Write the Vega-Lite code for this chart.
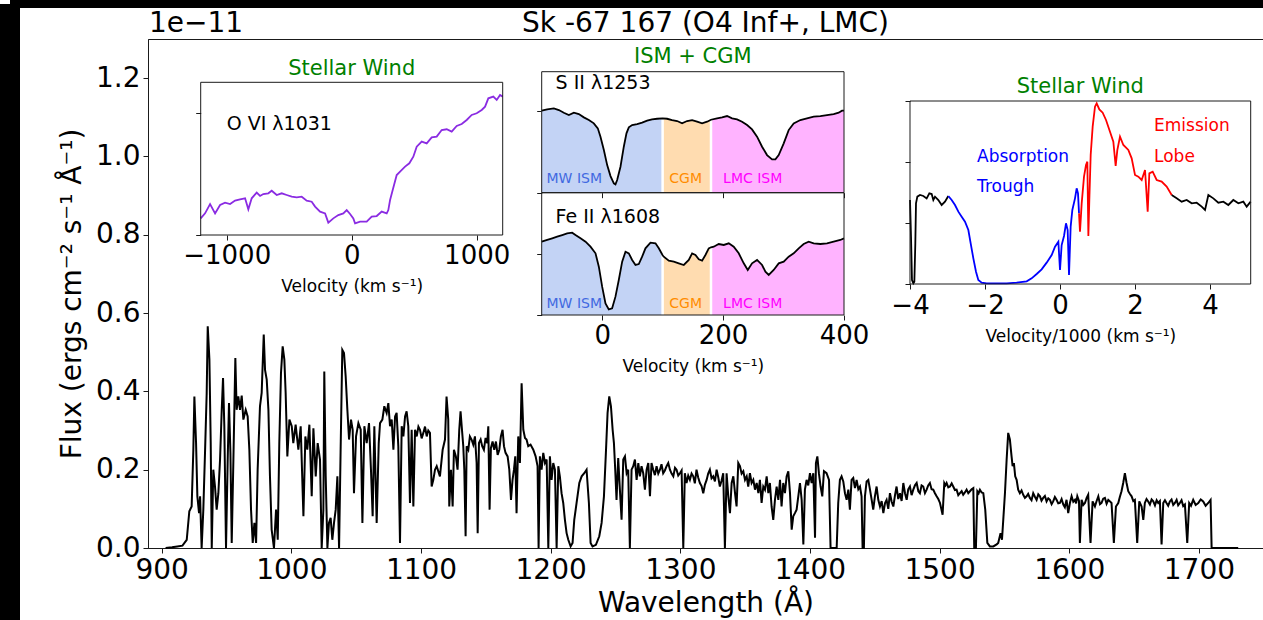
{
"$schema": "https://vega.github.io/schema/vega-lite/v6.json",
"width": 1115, "height": 509,
"autosize": {"type": "none"},
"padding": {"left": 148, "top": 39, "right": 0, "bottom": 72},
"background": "white",
"config": {
  "font": "DejaVu Sans",
  "view": {"stroke": "#1a1a1a", "strokeWidth": 1},
  "axis": {"grid": false, "domainColor": "#1a1a1a", "tickColor": "#1a1a1a", "labelColor": "black", "titleColor": "black", "labelFont": "DejaVu Sans", "titleFont": "DejaVu Sans", "titleFontWeight": "normal", "labelFlush": false, "labelOverlap": false},
  "text": {"font": "DejaVu Sans"}
},
"datasets": {
"spectrum": [
{"wl":903,"flux":0},{"wl":908,"flux":0.002},{"wl":912,"flux":0.004},{"wl":916,"flux":0.006},{"wl":919.3,"flux":0.021},{"wl":921.3,"flux":0.094},{"wl":923.1,"flux":0.106},{"wl":924.4,"flux":0.251},{"wl":925.2,"flux":0.387},{"wl":926.5,"flux":0.268},{"wl":927.5,"flux":0.132},{"wl":928.8,"flux":0.089},{"wl":929.6,"flux":0.132},{"wl":930.8,"flux":0},{"wl":932.1,"flux":0.098},{"wl":933.4,"flux":0.243},{"wl":934.7,"flux":0.396},{"wl":935.5,"flux":0.566},{"wl":936.8,"flux":0.481},{"wl":937.8,"flux":0.268},{"wl":938.6,"flux":0},{"wl":939.8,"flux":0.2},{"wl":941.1,"flux":0.157},{"wl":942.4,"flux":0.098},{"wl":943.7,"flux":0.14},{"wl":945,"flux":0.226},{"wl":946.3,"flux":0.353},{"wl":947.3,"flux":0.434},{"wl":948.3,"flux":0.311},{"wl":949.6,"flux":0},{"wl":950.9,"flux":0.226},{"wl":951.9,"flux":0.37},{"wl":953,"flux":0.243},{"wl":954,"flux":0.013},{"wl":955.3,"flux":0.226},{"wl":956.8,"flux":0.485},{"wl":957.8,"flux":0.353},{"wl":959.1,"flux":0.387},{"wl":960.4,"flux":0.353},{"wl":961.7,"flux":0.389},{"wl":963,"flux":0.328},{"wl":964.8,"flux":0.353},{"wl":966.3,"flux":0.336},{"wl":967.6,"flux":0.251},{"wl":968.9,"flux":0.098},{"wl":970.2,"flux":0.013},{"wl":971.5,"flux":0.064},{"wl":972.8,"flux":0.013},{"wl":974,"flux":0.2},{"wl":975.8,"flux":0.362},{"wl":977.1,"flux":0.396},{"wl":978.7,"flux":0.545},{"wl":979.7,"flux":0.455},{"wl":981,"flux":0.43},{"wl":982.3,"flux":0.353},{"wl":983.5,"flux":0.183},{"wl":984.8,"flux":0.047},{"wl":986.6,"flux":0},{"wl":988.2,"flux":0.098},{"wl":989.5,"flux":0.021},{"wl":990.7,"flux":0.268},{"wl":992,"flux":0.447},{"wl":993.3,"flux":0.515},{"wl":994.6,"flux":0.481},{"wl":995.6,"flux":0.396},{"wl":996.9,"flux":0.234},{"wl":998.5,"flux":0.328},{"wl":1000.3,"flux":0.311},{"wl":1001.5,"flux":0.268},{"wl":1003.3,"flux":0.315},{"wl":1005.4,"flux":0.251},{"wl":1007.2,"flux":0.311},{"wl":1009.3,"flux":0.081},{"wl":1010.8,"flux":0.285},{"wl":1012.3,"flux":0.251},{"wl":1013.9,"flux":0.315},{"wl":1015.7,"flux":0.132},{"wl":1017,"flux":0.306},{"wl":1018.8,"flux":0.183},{"wl":1020.3,"flux":0.268},{"wl":1022.1,"flux":0.226},{"wl":1023.4,"flux":0},{"wl":1024.7,"flux":0.098},{"wl":1025.4,"flux":0.451},{"wl":1026.5,"flux":0.183},{"wl":1027.8,"flux":0},{"wl":1029,"flux":0.064},{"wl":1030.3,"flux":0.077},{"wl":1031.6,"flux":0.021},{"wl":1032.9,"flux":0.064},{"wl":1034.2,"flux":0.098},{"wl":1035.5,"flux":0.183},{"wl":1036.8,"flux":0},{"wl":1038,"flux":0.251},{"wl":1039.3,"flux":0.506},{"wl":1040.6,"flux":0.498},{"wl":1041.9,"flux":0.438},{"wl":1043.2,"flux":0.353},{"wl":1044.5,"flux":0.277},{"wl":1046,"flux":0.328},{"wl":1047.3,"flux":0.302},{"wl":1048.3,"flux":0.14},{"wl":1049.9,"flux":0.285},{"wl":1051.7,"flux":0.319},{"wl":1053.5,"flux":0.302},{"wl":1054.8,"flux":0.064},{"wl":1056.3,"flux":0.311},{"wl":1058.1,"flux":0.268},{"wl":1059.9,"flux":0.319},{"wl":1061.4,"flux":0.2},{"wl":1062.7,"flux":0.081},{"wl":1064,"flux":0.311},{"wl":1065.8,"flux":0.064},{"wl":1067.4,"flux":0.268},{"wl":1068.4,"flux":0.319},{"wl":1070.2,"flux":0.328},{"wl":1071.7,"flux":0.362},{"wl":1073.5,"flux":0.345},{"wl":1074.8,"flux":0.37},{"wl":1076.1,"flux":0.311},{"wl":1077.4,"flux":0.328},{"wl":1078.7,"flux":0.251},{"wl":1080,"flux":0.336},{"wl":1081.2,"flux":0.345},{"wl":1082.5,"flux":0.26},{"wl":1083.8,"flux":0.013},{"wl":1085.1,"flux":0.311},{"wl":1086.4,"flux":0.285},{"wl":1087.7,"flux":0.336},{"wl":1088.9,"flux":0.349},{"wl":1090.2,"flux":0.311},{"wl":1091.5,"flux":0.115},{"wl":1092.8,"flux":0.302},{"wl":1094.1,"flux":0.106},{"wl":1095.4,"flux":0.302},{"wl":1096.7,"flux":0.285},{"wl":1098,"flux":0.31},{"wl":1099.2,"flux":0.302},{"wl":1100.5,"flux":0.28},{"wl":1101.8,"flux":0.294},{"wl":1103.1,"flux":0.31},{"wl":1104.4,"flux":0.285},{"wl":1105.6,"flux":0.3},{"wl":1106.9,"flux":0.294},{"wl":1108.2,"flux":0.157},{"wl":1109.5,"flux":0.174},{"wl":1110.8,"flux":0.2},{"wl":1112.1,"flux":0.209},{"wl":1114.6,"flux":0.183},
{"wl":1116.7,"flux":0.251},{"wl":1118.5,"flux":0.277},{"wl":1119.7,"flux":0.387},{"wl":1121,"flux":0.328},{"wl":1121.8,"flux":0.106},{"wl":1123.1,"flux":0.2},{"wl":1124.4,"flux":0.106},{"wl":1125.4,"flux":0.251},{"wl":1126.9,"flux":0.234},{"wl":1128.2,"flux":0.2},{"wl":1129.5,"flux":0.302},{"wl":1130.5,"flux":0.349},{"wl":1131.6,"flux":0.302},{"wl":1132.6,"flux":0.26},{"wl":1133.4,"flux":0.2},{"wl":1134.4,"flux":0.03},{"wl":1135.2,"flux":0.26},{"wl":1136.5,"flux":0.251},{"wl":1137.7,"flux":0.285},{"wl":1139,"flux":0.277},{"wl":1140.3,"flux":0.264},{"wl":1141.6,"flux":0.285},{"wl":1142.9,"flux":0.217},{"wl":1143.7,"flux":0.038},{"wl":1144.7,"flux":0.268},{"wl":1146,"flux":0.277},{"wl":1147.2,"flux":0.26},{"wl":1148.5,"flux":0.251},{"wl":1149.8,"flux":0.281},{"wl":1151.1,"flux":0.268},{"wl":1151.9,"flux":0.311},{"wl":1152.9,"flux":0.098},{"wl":1153.9,"flux":0.255},{"wl":1155.2,"flux":0.272},{"wl":1156.5,"flux":0.251},{"wl":1157.8,"flux":0.272},{"wl":1159.1,"flux":0.238},{"wl":1160.4,"flux":0.251},{"wl":1161.6,"flux":0.285},{"wl":1162.9,"flux":0.302},{"wl":1164,"flux":0.26},{"wl":1165.2,"flux":0.243},{"wl":1166.8,"flux":0.234},{"wl":1168.1,"flux":0.2},{"wl":1169.4,"flux":0.123},{"wl":1170.6,"flux":0.174},{"wl":1171.7,"flux":0.2},{"wl":1172.7,"flux":0.234},{"wl":1173.7,"flux":0.089},{"wl":1175,"flux":0.285},{"wl":1176.3,"flux":0.217},{"wl":1177.6,"flux":0.421},{"wl":1178.9,"flux":0.302},{"wl":1180.2,"flux":0.281},{"wl":1181.4,"flux":0.277},{"wl":1182.7,"flux":0.26},{"wl":1184.5,"flux":0.264},{"wl":1186.6,"flux":0.251},{"wl":1188.4,"flux":0.234},{"wl":1189.9,"flux":0.209},{"wl":1190.7,"flux":0},{"wl":1191.7,"flux":0.234},{"wl":1193,"flux":0.2},{"wl":1194.3,"flux":0.243},{"wl":1195.6,"flux":0.217},{"wl":1196.9,"flux":0.226},{"wl":1198.2,"flux":0},{"wl":1199.4,"flux":0.234},{"wl":1200.7,"flux":0.174},{"wl":1202,"flux":0.217},{"wl":1203.3,"flux":0.2},{"wl":1204.6,"flux":0},{"wl":1205.9,"flux":0.209},{"wl":1207.1,"flux":0.183},{"wl":1208.4,"flux":0.14},{"wl":1209.7,"flux":0.115},{"wl":1211,"flux":0.072},{"wl":1212.3,"flux":0.038},{"wl":1213.6,"flux":0.021},{"wl":1215.4,"flux":0.004},{"wl":1216.9,"flux":0.013},{"wl":1218.2,"flux":0.072},{"wl":1220,"flux":0.115},{"wl":1222.1,"flux":0.166},{"wl":1223.9,"flux":0.183},{"wl":1225.9,"flux":0.191},{"wl":1227.7,"flux":0.2},{"wl":1229.5,"flux":0.115},{"wl":1230.8,"flux":0.013},{"wl":1232.3,"flux":0.004},{"wl":1234.9,"flux":0.008},{"wl":1237.5,"flux":0.03},{"wl":1239.3,"flux":0.064},{"wl":1241.1,"flux":0.132},{"wl":1242.6,"flux":0.243},{"wl":1243.9,"flux":0.345},{"wl":1245.2,"flux":0.387},{"wl":1246.5,"flux":0.362},{"wl":1247.8,"flux":0.302},{"wl":1248.8,"flux":0.268},{"wl":1249.8,"flux":0.2},{"wl":1250.8,"flux":0.123},{"wl":1252.1,"flux":0.23},{"wl":1253.4,"flux":0.149},{"wl":1254.7,"flux":0.072},{"wl":1256,"flux":0.226},{"wl":1257.3,"flux":0.234},{"wl":1258.6,"flux":0.191},{"wl":1259.8,"flux":0.2},{"wl":1261.1,"flux":0},{"wl":1262.4,"flux":0.2},{"wl":1263.7,"flux":0.209},{"wl":1265,"flux":0.226},{"wl":1266.3,"flux":0.174},{"wl":1267.6,"flux":0.217},{"wl":1268.8,"flux":0.183},{"wl":1270.1,"flux":0.209},{"wl":1271.4,"flux":0.191},{"wl":1272.7,"flux":0.149},{"wl":1274,"flux":0.2},{"wl":1275.3,"flux":0.217},{"wl":1276.6,"flux":0.132},{"wl":1277.8,"flux":0.217},{"wl":1279.1,"flux":0.2},{"wl":1280.4,"flux":0.186},{"wl":1281.7,"flux":0.209},{"wl":1283,"flux":0.19},{"wl":1284.3,"flux":0.2},{"wl":1285.5,"flux":0.214},{"wl":1286.8,"flux":0.191},{"wl":1288.1,"flux":0.198},{"wl":1289.4,"flux":0.209},{"wl":1290.7,"flux":0.217},{"wl":1292,"flux":0.2},{"wl":1293.3,"flux":0.19},{"wl":1294.6,"flux":0.183},{"wl":1295.9,"flux":0.205},{"wl":1297.1,"flux":0.2},{"wl":1298.4,"flux":0.185},{"wl":1299.7,"flux":0.191},{"wl":1301,"flux":0.198},{"wl":1302.3,"flux":0},{"wl":1303.5,"flux":0.191},{"wl":1304.8,"flux":0.166},{"wl":1306.1,"flux":0.185},{"wl":1307.4,"flux":0.174},{"wl":1308.7,"flux":0.19},{"wl":1310,"flux":0.183},{"wl":1311.2,"flux":0.165},{"wl":1312.5,"flux":0.2},{"wl":1313.8,"flux":0.18},{"wl":1315.1,"flux":0.166},{"wl":1316.4,"flux":0.158},{"wl":1317.7,"flux":0.14},{"wl":1319,"flux":0.162},{"wl":1320.3,"flux":0.174},{"wl":1321.5,"flux":0.19},{"wl":1322.8,"flux":0.2},{"wl":1324.1,"flux":0.178},{"wl":1325.4,"flux":0.183},{"wl":1326.7,"flux":0.17},{"wl":1328,"flux":0.2},{"wl":1329.3,"flux":0.18},{"wl":1330.5,"flux":0.157},{"wl":1331.8,"flux":0.172},{"wl":1333.1,"flux":0.191},{"wl":1334.4,"flux":0},{"wl":1335.7,"flux":0.191},{"wl":1337,"flux":0.132},
{"wl":1338.3,"flux":0.089},{"wl":1339.6,"flux":0.166},{"wl":1340.9,"flux":0.183},{"wl":1342.2,"flux":0.14},{"wl":1343.4,"flux":0.106},{"wl":1344.7,"flux":0.217},{"wl":1346,"flux":0.209},{"wl":1347.3,"flux":0.19},{"wl":1348.6,"flux":0.196},{"wl":1349.9,"flux":0.174},{"wl":1351.2,"flux":0.183},{"wl":1352.4,"flux":0.157},{"wl":1353.7,"flux":0.191},{"wl":1355,"flux":0.166},{"wl":1356.3,"flux":0.174},{"wl":1357.6,"flux":0.149},{"wl":1358.9,"flux":0.166},{"wl":1360.2,"flux":0.14},{"wl":1361.4,"flux":0.174},{"wl":1362.7,"flux":0.115},{"wl":1364,"flux":0.157},{"wl":1365.3,"flux":0.149},{"wl":1366.6,"flux":0.183},{"wl":1367.9,"flux":0.14},{"wl":1369.1,"flux":0.166},{"wl":1370.4,"flux":0.106},{"wl":1371.7,"flux":0.072},{"wl":1373,"flux":0.123},{"wl":1374.3,"flux":0.157},{"wl":1375.6,"flux":0.123},{"wl":1376.9,"flux":0.174},{"wl":1378.1,"flux":0.106},{"wl":1379.4,"flux":0.166},{"wl":1380.7,"flux":0.14},{"wl":1382,"flux":0.183},{"wl":1383.3,"flux":0.196},{"wl":1384.6,"flux":0.14},{"wl":1385.9,"flux":0.047},{"wl":1387.1,"flux":0.081},{"wl":1388.4,"flux":0.089},{"wl":1389.7,"flux":0.098},{"wl":1391,"flux":0.132},{"wl":1392.3,"flux":0.166},{"wl":1393.6,"flux":0.123},{"wl":1394.9,"flux":0.009},{"wl":1396.1,"flux":0.149},{"wl":1397.4,"flux":0.174},{"wl":1398.7,"flux":0.16},{"wl":1400,"flux":0.191},{"wl":1401.3,"flux":0.166},{"wl":1402.6,"flux":0.191},{"wl":1403.9,"flux":0.026},{"wl":1404.6,"flux":0.217},{"wl":1405.7,"flux":0.234},{"wl":1406.9,"flux":0.191},{"wl":1408.2,"flux":0.157},{"wl":1409.5,"flux":0.132},{"wl":1410.8,"flux":0.196},{"wl":1412.8,"flux":0.191},{"wl":1414.7,"flux":0.174},{"wl":1415.9,"flux":0},{"wl":1418,"flux":0},{"wl":1420.6,"flux":0},{"wl":1421.8,"flux":0.115},{"wl":1423.1,"flux":0.174},{"wl":1424.4,"flux":0.183},{"wl":1425.7,"flux":0.17},{"wl":1427,"flux":0.14},{"wl":1428.3,"flux":0.123},{"wl":1429.6,"flux":0.149},{"wl":1430.8,"flux":0.098},{"wl":1432.1,"flux":0.174},{"wl":1433.4,"flux":0.179},{"wl":1434.7,"flux":0.153},{"wl":1436,"flux":0.174},{"wl":1437.3,"flux":0.15},{"wl":1438.6,"flux":0.157},{"wl":1439.8,"flux":0.132},{"wl":1440.6,"flux":0},{"wl":1441.6,"flux":0},{"wl":1442.4,"flux":0.132},{"wl":1443.7,"flux":0.17},{"wl":1445,"flux":0.174},{"wl":1446.3,"flux":0.149},{"wl":1447.6,"flux":0.123},{"wl":1448.8,"flux":0.098},{"wl":1450.1,"flux":0.132},{"wl":1451.4,"flux":0.157},{"wl":1452.7,"flux":0.123},{"wl":1454,"flux":0.106},{"wl":1455.3,"flux":0.12},{"wl":1456.6,"flux":0.089},{"wl":1457.9,"flux":0.115},{"wl":1459.1,"flux":0.123},{"wl":1460.4,"flux":0.1},{"wl":1461.7,"flux":0.14},{"wl":1463,"flux":0.118},{"wl":1464.3,"flux":0.106},{"wl":1465.6,"flux":0.135},{"wl":1466.8,"flux":0.157},{"wl":1468.1,"flux":0.125},{"wl":1469.4,"flux":0.14},{"wl":1470.7,"flux":0.12},{"wl":1472,"flux":0.166},{"wl":1473.3,"flux":0.14},{"wl":1474.6,"flux":0.123},{"wl":1475.8,"flux":0.15},{"wl":1477.1,"flux":0.157},{"wl":1478.4,"flux":0.135},{"wl":1479.7,"flux":0.149},{"wl":1481,"flux":0.16},{"wl":1482.3,"flux":0.166},{"wl":1483.6,"flux":0.145},{"wl":1484.8,"flux":0.14},{"wl":1486.1,"flux":0.16},{"wl":1487.4,"flux":0.157},{"wl":1488.7,"flux":0.14},{"wl":1490,"flux":0.149},{"wl":1491.2,"flux":0.16},{"wl":1492.5,"flux":0.166},{"wl":1493.8,"flux":0.15},{"wl":1495.1,"flux":0.149},{"wl":1496.4,"flux":0.14},{"wl":1497.7,"flux":0.132},{"wl":1499,"flux":0.125},{"wl":1500.3,"flux":0.115},{"wl":1502.3,"flux":0.085},{"wl":1503.6,"flux":0.166},{"wl":1504.5,"flux":0.16},{"wl":1505.4,"flux":0.166},{"wl":1506.7,"flux":0.155},{"wl":1508,"flux":0.157},{"wl":1509.3,"flux":0.165},{"wl":1510.5,"flux":0.157},{"wl":1511.8,"flux":0.148},{"wl":1513.1,"flux":0.149},{"wl":1514.4,"flux":0.135},{"wl":1515.7,"flux":0.14},{"wl":1517,"flux":0.145},{"wl":1518.2,"flux":0.136},{"wl":1519.5,"flux":0.142},{"wl":1520.8,"flux":0.149},{"wl":1522.1,"flux":0.14},{"wl":1523.4,"flux":0.145},{"wl":1524.7,"flux":0.15},{"wl":1526,"flux":0.153},{"wl":1526.7,"flux":0},{"wl":1528,"flux":0},{"wl":1529.1,"flux":0.145},{"wl":1530.1,"flux":0.14},{"wl":1531.1,"flux":0.149},{"wl":1532.4,"flux":0.142},{"wl":1533.7,"flux":0.14},{"wl":1535.2,"flux":0.098},{"wl":1536.8,"flux":0.013},{"wl":1538.8,"flux":0.004},{"wl":1541.4,"flux":0.004},{"wl":1544,"flux":0.009},
{"wl":1545.2,"flux":0.013},{"wl":1547,"flux":0.038},{"wl":1548.1,"flux":0.021},{"wl":1549.1,"flux":0.072},{"wl":1550.4,"flux":0.14},{"wl":1551.7,"flux":0.226},{"wl":1552.9,"flux":0.294},{"wl":1554.2,"flux":0.277},{"wl":1555.5,"flux":0.234},{"wl":1556.3,"flux":0.209},{"wl":1557.3,"flux":0.217},{"wl":1558.3,"flux":0.183},{"wl":1559.4,"flux":0.174},{"wl":1560.6,"flux":0.149},{"wl":1561.9,"flux":0.14},{"wl":1563.2,"flux":0.147},{"wl":1564.5,"flux":0.136},{"wl":1565.8,"flux":0.128},{"wl":1567.1,"flux":0.132},{"wl":1568.3,"flux":0.138},{"wl":1569.6,"flux":0.128},{"wl":1570.9,"flux":0.122},{"wl":1572.2,"flux":0.14},{"wl":1573.5,"flux":0.131},{"wl":1574.8,"flux":0.123},{"wl":1576.1,"flux":0.137},{"wl":1577.4,"flux":0.132},{"wl":1578.6,"flux":0.121},{"wl":1579.9,"flux":0.128},{"wl":1581.2,"flux":0.133},{"wl":1582.5,"flux":0.119},{"wl":1583.8,"flux":0.127},{"wl":1585.1,"flux":0.123},{"wl":1586.4,"flux":0.112},{"wl":1587.6,"flux":0.119},{"wl":1588.9,"flux":0.13},{"wl":1590.2,"flux":0.123},{"wl":1591.5,"flux":0.114},{"wl":1592.8,"flux":0.115},{"wl":1594.1,"flux":0.125},{"wl":1595.4,"flux":0.111},{"wl":1596.6,"flux":0.104},{"wl":1597.9,"flux":0.123},{"wl":1599.2,"flux":0.089},{"wl":1600.5,"flux":0.115},{"wl":1601.8,"flux":0.132},{"wl":1603.1,"flux":0.118},{"wl":1604.4,"flux":0.123},{"wl":1605.3,"flux":0.114},{"wl":1606.2,"flux":0.132},{"wl":1607.5,"flux":0.12},{"wl":1608.2,"flux":0.013},{"wl":1609.5,"flux":0.123},{"wl":1610.8,"flux":0.11},{"wl":1612.1,"flux":0.115},{"wl":1613.4,"flux":0.128},{"wl":1614.6,"flux":0.136},{"wl":1616.4,"flux":0.013},{"wl":1618,"flux":0.119},{"wl":1619.8,"flux":0.106},{"wl":1621.1,"flux":0.12},{"wl":1622.4,"flux":0.132},{"wl":1623.7,"flux":0.112},{"wl":1624.9,"flux":0.115},{"wl":1626.2,"flux":0.126},{"wl":1627.5,"flux":0.128},{"wl":1628.8,"flux":0.113},{"wl":1630.1,"flux":0.123},{"wl":1631.4,"flux":0.119},{"wl":1632.6,"flux":0.115},{"wl":1634.4,"flux":0.013},{"wl":1636,"flux":0.106},{"wl":1637.8,"flux":0.115},{"wl":1639,"flux":0.13},{"wl":1640.3,"flux":0.145},{"wl":1641.6,"flux":0.166},{"wl":1642.9,"flux":0.191},{"wl":1644.2,"flux":0.166},{"wl":1645.5,"flux":0.145},{"wl":1646.8,"flux":0.138},{"wl":1648.1,"flux":0.132},{"wl":1649.4,"flux":0.12},{"wl":1650.6,"flux":0.123},{"wl":1652.4,"flux":0.013},{"wl":1654,"flux":0.119},{"wl":1655.8,"flux":0.106},{"wl":1657.1,"flux":0.072},{"wl":1658.3,"flux":0.115},{"wl":1659.6,"flux":0.125},{"wl":1660.9,"flux":0.119},{"wl":1662.2,"flux":0.111},{"wl":1663.5,"flux":0.124},{"wl":1664.8,"flux":0.119},{"wl":1666.1,"flux":0.109},{"wl":1667.4,"flux":0.122},{"wl":1668.6,"flux":0.115},{"wl":1669.9,"flux":0.12},{"wl":1671.2,"flux":0.009},{"wl":1672.5,"flux":0.115},{"wl":1673.8,"flux":0.122},{"wl":1675,"flux":0.115},{"wl":1676.3,"flux":0.108},{"wl":1677.6,"flux":0.119},{"wl":1678.9,"flux":0.124},{"wl":1680.2,"flux":0.11},{"wl":1681.5,"flux":0.115},{"wl":1682.8,"flux":0.123},{"wl":1684,"flux":0.109},{"wl":1685.3,"flux":0.115},{"wl":1686.6,"flux":0.122},{"wl":1687.9,"flux":0.107},{"wl":1689.2,"flux":0.111},{"wl":1691,"flux":0.013},{"wl":1692.5,"flux":0.115},{"wl":1693.9,"flux":0.108},{"wl":1695.6,"flux":0.123},{"wl":1697.5,"flux":0.11},{"wl":1699.5,"flux":0.115},{"wl":1701.4,"flux":0.124},{"wl":1703.3,"flux":0.119},{"wl":1705.2,"flux":0.108},{"wl":1707.2,"flux":0.115},{"wl":1709,"flux":0.123},{"wl":1709.8,"flux":0},{"wl":1713.6,"flux":0},{"wl":1730.3,"flux":0}
],
"ovi": [
{"v":-1208,"f":0.136},{"v":-1173,"f":0.177},{"v":-1133,"f":0.253},{"v":-1093,"f":0.177},{"v":-1053,"f":0.245},{"v":-1013,"f":0.264},{"v":-973,"f":0.253},{"v":-933,"f":0.281},{"v":-893,"f":0.292},{"v":-853,"f":0.3},{"v":-827,"f":0.21},{"v":-800,"f":0.3},{"v":-760,"f":0.346},{"v":-733,"f":0.319},{"v":-707,"f":0.335},{"v":-667,"f":0.341},{"v":-640,"f":0.362},{"v":-600,"f":0.327},{"v":-560,"f":0.341},{"v":-520,"f":0.327},{"v":-480,"f":0.313},{"v":-440,"f":0.308},{"v":-400,"f":0.313},{"v":-360,"f":0.281},{"v":-320,"f":0.272},{"v":-293,"f":0.232},{"v":-253,"f":0.191},{"v":-213,"f":0.177},{"v":-187,"f":0.101},{"v":-147,"f":0.136},{"v":-107,"f":0.163},{"v":-67,"f":0.177},{"v":-40,"f":0.204},{"v":-13,"f":0.172},{"v":13,"f":0.136},{"v":27,"f":0.095},{"v":67,"f":0.109},{"v":120,"f":0.109},{"v":160,"f":0.15},{"v":200,"f":0.155},{"v":240,"f":0.191},{"v":280,"f":0.177},{"v":293,"f":0.204},{"v":307,"f":0.286},{"v":328,"f":0.368},{"v":360,"f":0.49},{"v":387,"f":0.518},{"v":427,"f":0.559},{"v":461,"f":0.586},{"v":493,"f":0.64},{"v":520,"f":0.722},{"v":560,"f":0.763},{"v":600,"f":0.749},{"v":640,"f":0.798},{"v":680,"f":0.804},{"v":720,"f":0.858},{"v":760,"f":0.864},{"v":800,"f":0.845},{"v":840,"f":0.891},{"v":880,"f":0.907},{"v":920,"f":0.94},{"v":960,"f":0.981},{"v":1000,"f":0.995},{"v":1040,"f":1.022},{"v":1067,"f":1.049},{"v":1093,"f":1.117},{"v":1133,"f":1.131},{"v":1160,"f":1.104},{"v":1187,"f":1.144},{"v":1208,"f":1.131}
],
"s2": [
{"v":-100,"f":1.0,"region":"MW"},{"v":-90.9,"f":1.016,"region":"MW"},{"v":-79.9,"f":1.028,"region":"MW"},{"v":-71.6,"f":1.008,"region":"MW"},{"v":-63.4,"f":0.976,"region":"MW"},{"v":-55.1,"f":0.947,"region":"MW"},{"v":-46.8,"f":0.976,"region":"MW"},{"v":-38.6,"f":0.959,"region":"MW"},{"v":-30.3,"f":0.919,"region":"MW"},{"v":-22,"f":0.886,"region":"MW"},{"v":-13.8,"f":0.846,"region":"MW"},{"v":-7.2,"f":0.785,"region":"MW"},{"v":-2.8,"f":0.683,"region":"MW"},{"v":2.8,"f":0.52,"region":"MW"},{"v":8.3,"f":0.337,"region":"MW"},{"v":13.8,"f":0.203,"region":"MW"},{"v":19.3,"f":0.114,"region":"MW"},{"v":22,"f":0.102,"region":"MW"},{"v":24.8,"f":0.154,"region":"MW"},{"v":30.3,"f":0.317,"region":"MW"},{"v":35.8,"f":0.561,"region":"MW"},{"v":40.2,"f":0.724,"region":"MW"},{"v":44.1,"f":0.797,"region":"MW"},{"v":49.6,"f":0.825,"region":"MW"},{"v":57.9,"f":0.837,"region":"MW"},{"v":66.1,"f":0.854,"region":"MW"},{"v":74.4,"f":0.878,"region":"MW"},{"v":82.6,"f":0.894,"region":"MW"},{"v":90.9,"f":0.902,"region":"MW"},{"v":100,"f":0.907,"region":"MW"},
{"v":100,"f":0.907,"region":"CGM"},{"v":107.4,"f":0.902,"region":"CGM"},{"v":115.7,"f":0.886,"region":"CGM"},{"v":124,"f":0.874,"region":"CGM"},{"v":132.2,"f":0.846,"region":"CGM"},{"v":140.5,"f":0.874,"region":"CGM"},{"v":148.8,"f":0.886,"region":"CGM"},{"v":157,"f":0.866,"region":"CGM"},{"v":165.3,"f":0.846,"region":"CGM"},{"v":173.6,"f":0.866,"region":"CGM"},{"v":180,"f":0.89,"region":"CGM"},
{"v":180,"f":0.89,"region":"LMC"},{"v":190.1,"f":0.907,"region":"LMC"},{"v":198.3,"f":0.919,"region":"LMC"},{"v":206.6,"f":0.935,"region":"LMC"},{"v":214.9,"f":0.907,"region":"LMC"},{"v":223.1,"f":0.894,"region":"LMC"},{"v":231.4,"f":0.866,"region":"LMC"},{"v":239.7,"f":0.825,"region":"LMC"},{"v":247.9,"f":0.772,"region":"LMC"},{"v":256.2,"f":0.683,"region":"LMC"},{"v":264.5,"f":0.561,"region":"LMC"},{"v":272.7,"f":0.459,"region":"LMC"},{"v":281,"f":0.407,"region":"LMC"},{"v":286.5,"f":0.407,"region":"LMC"},{"v":292,"f":0.459,"region":"LMC"},{"v":300.3,"f":0.602,"region":"LMC"},{"v":308.5,"f":0.764,"region":"LMC"},{"v":316.8,"f":0.846,"region":"LMC"},{"v":327.8,"f":0.886,"region":"LMC"},{"v":338.8,"f":0.907,"region":"LMC"},{"v":349.9,"f":0.927,"region":"LMC"},{"v":360.9,"f":0.935,"region":"LMC"},{"v":371.9,"f":0.947,"region":"LMC"},{"v":382.9,"f":0.959,"region":"LMC"},{"v":391.2,"f":0.976,"region":"LMC"},{"v":396.7,"f":1.0,"region":"LMC"},{"v":400,"f":1.0,"region":"LMC"}
],
"fe2": [
{"v":-100,"f":1.202,"region":"MW"},{"v":-90.9,"f":1.23,"region":"MW"},{"v":-82.6,"f":1.257,"region":"MW"},{"v":-74.4,"f":1.284,"region":"MW"},{"v":-66.1,"f":1.311,"region":"MW"},{"v":-57.9,"f":1.339,"region":"MW"},{"v":-49.6,"f":1.35,"region":"MW"},{"v":-44.1,"f":1.311,"region":"MW"},{"v":-35.8,"f":1.257,"region":"MW"},{"v":-27.5,"f":1.202,"region":"MW"},{"v":-19.3,"f":1.12,"region":"MW"},{"v":-11,"f":1.011,"region":"MW"},{"v":-5.5,"f":0.792,"region":"MW"},{"v":0,"f":0.464,"region":"MW"},{"v":5.5,"f":0.191,"region":"MW"},{"v":11,"f":0.093,"region":"MW"},{"v":16.5,"f":0.109,"region":"MW"},{"v":22,"f":0.301,"region":"MW"},{"v":27.5,"f":0.574,"region":"MW"},{"v":33.1,"f":0.874,"region":"MW"},{"v":38.6,"f":1.038,"region":"MW"},{"v":44.1,"f":1.011,"region":"MW"},{"v":49.6,"f":0.902,"region":"MW"},{"v":55.1,"f":0.82,"region":"MW"},{"v":60.6,"f":0.836,"region":"MW"},{"v":66.1,"f":0.956,"region":"MW"},{"v":71.6,"f":1.093,"region":"MW"},{"v":79.9,"f":1.186,"region":"MW"},{"v":88.2,"f":1.175,"region":"MW"},{"v":93.7,"f":1.093,"region":"MW"},{"v":100,"f":0.98,"region":"MW"},
{"v":100,"f":0.98,"region":"CGM"},{"v":101.9,"f":0.956,"region":"CGM"},{"v":110.2,"f":0.891,"region":"CGM"},{"v":118.5,"f":0.874,"region":"CGM"},{"v":126.7,"f":0.847,"region":"CGM"},{"v":135,"f":0.82,"region":"CGM"},{"v":143.3,"f":0.902,"region":"CGM"},{"v":148.8,"f":1.011,"region":"CGM"},{"v":154.3,"f":0.984,"region":"CGM"},{"v":159.8,"f":0.913,"region":"CGM"},{"v":165.3,"f":0.891,"region":"CGM"},{"v":170.8,"f":0.984,"region":"CGM"},{"v":176.3,"f":1.093,"region":"CGM"},{"v":180,"f":1.11,"region":"CGM"},
{"v":180,"f":1.11,"region":"LMC"},{"v":184.6,"f":1.12,"region":"LMC"},{"v":192.8,"f":1.164,"region":"LMC"},{"v":201.1,"f":1.148,"region":"LMC"},{"v":209.4,"f":1.175,"region":"LMC"},{"v":217.6,"f":1.12,"region":"LMC"},{"v":225.9,"f":1.011,"region":"LMC"},{"v":234.2,"f":0.847,"region":"LMC"},{"v":240.8,"f":0.738,"region":"LMC"},{"v":247.9,"f":0.847,"region":"LMC"},{"v":256.2,"f":0.902,"region":"LMC"},{"v":264.5,"f":0.82,"region":"LMC"},{"v":270,"f":0.71,"region":"LMC"},{"v":275.5,"f":0.656,"region":"LMC"},{"v":283.7,"f":0.738,"region":"LMC"},{"v":292,"f":0.847,"region":"LMC"},{"v":300.3,"f":0.874,"region":"LMC"},{"v":308.5,"f":0.956,"region":"LMC"},{"v":316.8,"f":1.011,"region":"LMC"},{"v":325.1,"f":1.093,"region":"LMC"},{"v":333.3,"f":1.164,"region":"LMC"},{"v":341.6,"f":1.202,"region":"LMC"},{"v":349.9,"f":1.175,"region":"LMC"},{"v":360.9,"f":1.164,"region":"LMC"},{"v":371.9,"f":1.175,"region":"LMC"},{"v":382.9,"f":1.202,"region":"LMC"},{"v":393.9,"f":1.23,"region":"LMC"},{"v":400,"f":1.257,"region":"LMC"}
],
"wind": [
{"v":-4.0,"f":1.377,"part":"c1"},{"v":-3.973,"f":0.776,"part":"c1"},{"v":-3.947,"f":0.066,"part":"c1"},{"v":-3.911,"f":0.011,"part":"c1"},{"v":-3.884,"f":0.038,"part":"c1"},{"v":-3.858,"f":0.667,"part":"c1"},{"v":-3.84,"f":1.322,"part":"c1"},{"v":-3.804,"f":1.432,"part":"c1"},{"v":-3.733,"f":1.459,"part":"c1"},{"v":-3.644,"f":1.443,"part":"c1"},{"v":-3.556,"f":1.404,"part":"c1"},{"v":-3.484,"f":1.486,"part":"c1"},{"v":-3.422,"f":1.475,"part":"c1"},{"v":-3.378,"f":1.377,"part":"c1"},{"v":-3.333,"f":1.432,"part":"c1"},{"v":-3.244,"f":1.377,"part":"c1"},{"v":-3.156,"f":1.295,"part":"c1"},{"v":-3.067,"f":1.35,"part":"c1"},{"v":-2.978,"f":1.443,"part":"c1"},
{"v":-2.978,"f":1.443,"part":"abs"},{"v":-2.889,"f":1.377,"part":"abs"},{"v":-2.8,"f":1.295,"part":"abs"},{"v":-2.711,"f":1.186,"part":"abs"},{"v":-2.622,"f":1.104,"part":"abs"},{"v":-2.533,"f":1.022,"part":"abs"},{"v":-2.444,"f":0.885,"part":"abs"},{"v":-2.382,"f":0.667,"part":"abs"},{"v":-2.311,"f":0.421,"part":"abs"},{"v":-2.24,"f":0.202,"part":"abs"},{"v":-2.178,"f":0.066,"part":"abs"},{"v":-2.089,"f":0.022,"part":"abs"},{"v":-1.956,"f":0.011,"part":"abs"},{"v":-1.689,"f":0.011,"part":"abs"},{"v":-1.422,"f":0.011,"part":"abs"},{"v":-1.156,"f":0.022,"part":"abs"},{"v":-0.889,"f":0.044,"part":"abs"},{"v":-0.756,"f":0.093,"part":"abs"},{"v":-0.622,"f":0.164,"part":"abs"},{"v":-0.489,"f":0.24,"part":"abs"},{"v":-0.356,"f":0.35,"part":"abs"},{"v":-0.222,"f":0.475,"part":"abs"},{"v":-0.133,"f":0.612,"part":"abs"},{"v":-0.044,"f":0.694,"part":"abs"},{"v":0.0,"f":0.23,"part":"abs"},{"v":0.044,"f":0.639,"part":"abs"},{"v":0.107,"f":0.787,"part":"abs"},{"v":0.16,"f":0.995,"part":"abs"},{"v":0.204,"f":0.885,"part":"abs"},{"v":0.24,"f":0.148,"part":"abs"},{"v":0.284,"f":0.94,"part":"abs"},{"v":0.329,"f":1.213,"part":"abs"},{"v":0.4,"f":1.404,"part":"abs"},{"v":0.444,"f":1.568,"part":"abs"},{"v":0.48,"f":1.486,"part":"abs"},{"v":0.507,"f":1.158,"part":"abs"},
{"v":0.507,"f":1.158,"part":"emis"},{"v":0.533,"f":0.858,"part":"emis"},{"v":0.578,"f":1.322,"part":"emis"},{"v":0.64,"f":1.76,"part":"emis"},{"v":0.693,"f":1.951,"part":"emis"},{"v":0.729,"f":2.005,"part":"emis"},{"v":0.756,"f":0.787,"part":"emis"},{"v":0.782,"f":1.377,"part":"emis"},{"v":0.818,"f":2.115,"part":"emis"},{"v":0.871,"f":2.579,"part":"emis"},{"v":0.933,"f":2.907,"part":"emis"},{"v":0.978,"f":2.962,"part":"emis"},{"v":1.049,"f":2.863,"part":"emis"},{"v":1.138,"f":2.809,"part":"emis"},{"v":1.227,"f":2.689,"part":"emis"},{"v":1.333,"f":2.497,"part":"emis"},{"v":1.422,"f":2.333,"part":"emis"},{"v":1.484,"f":1.934,"part":"emis"},{"v":1.529,"f":2.197,"part":"emis"},{"v":1.6,"f":2.415,"part":"emis"},{"v":1.689,"f":2.279,"part":"emis"},{"v":1.822,"f":2.197,"part":"emis"},{"v":1.911,"f":2.06,"part":"emis"},{"v":2.0,"f":1.787,"part":"emis"},{"v":2.089,"f":1.76,"part":"emis"},{"v":2.178,"f":1.705,"part":"emis"},{"v":2.267,"f":1.869,"part":"emis"},{"v":2.338,"f":1.186,"part":"emis"},{"v":2.382,"f":1.814,"part":"emis"},{"v":2.471,"f":1.842,"part":"emis"},{"v":2.578,"f":1.705,"part":"emis"},{"v":2.711,"f":1.678,"part":"emis"},{"v":2.844,"f":1.596,"part":"emis"},{"v":2.978,"f":1.459,"part":"emis"},
{"v":2.978,"f":1.459,"part":"c2"},{"v":3.111,"f":1.404,"part":"c2"},{"v":3.244,"f":1.35,"part":"c2"},{"v":3.378,"f":1.377,"part":"c2"},{"v":3.511,"f":1.322,"part":"c2"},{"v":3.644,"f":1.333,"part":"c2"},{"v":3.778,"f":1.268,"part":"c2"},{"v":3.867,"f":1.213,"part":"c2"},{"v":3.956,"f":1.459,"part":"c2"},{"v":4.089,"f":1.404,"part":"c2"},{"v":4.222,"f":1.333,"part":"c2"},{"v":4.356,"f":1.35,"part":"c2"},{"v":4.489,"f":1.295,"part":"c2"},{"v":4.622,"f":1.377,"part":"c2"},{"v":4.756,"f":1.322,"part":"c2"},{"v":4.889,"f":1.35,"part":"c2"},{"v":4.978,"f":1.268,"part":"c2"},{"v":5.084,"f":1.35,"part":"c2"}
],
"edges": [{"edge":100},{"edge":180}]
},
"resolve": {"scale": {"x": "independent", "y": "independent", "color": "independent"}, "axis": {"x": "independent", "y": "independent"}},
"layer": [
{
 "data": {"name": "spectrum"},
 "layer": [
  {"mark": {"type": "line", "color": "black", "strokeWidth": 2},
   "encoding": {
    "x": {"field": "wl", "type": "quantitative", "scale": {"domain": [889.43, 1749.43], "nice": false, "zero": false},
      "axis": {"orient": "bottom", "values": [900,1000,1100,1200,1300,1400,1500,1600,1700], "format": "d", "labelFontSize": 28, "tickSize": 5, "labelPadding": 3, "title": "Wavelength (Å)", "titleFontSize": 28, "titlePadding": 5}},
    "y": {"field": "flux", "type": "quantitative", "scale": {"domain": [0, 1.3], "nice": false, "zero": false},
      "axis": {"orient": "left", "values": [0,0.2,0.4,0.6,0.8,1.0,1.2], "format": ".1f", "labelFontSize": 28, "tickSize": 5, "labelPadding": 3, "title": "Flux (ergs cm⁻² s⁻¹ Å⁻¹)", "titleFontSize": 28, "titlePadding": 9}}
   }},
  {"data": {"values": [{}]}, "mark": {"type": "text", "text": "1e−11", "align": "left", "baseline": "alphabetic", "fontSize": 28, "dx": 1, "dy": -7, "color": "black"},
   "encoding": {"x": {"datum": 889.43, "type": "quantitative"}, "y": {"datum": 1.3, "type": "quantitative"}}},
  {"data": {"values": [{}]}, "mark": {"type": "text", "text": "Sk -67 167 (O4 Inf+, LMC)", "align": "center", "baseline": "alphabetic", "fontSize": 28, "dy": -7, "color": "black"},
   "encoding": {"x": {"datum": 1319.43, "type": "quantitative"}, "y": {"datum": 1.3, "type": "quantitative"}}}
 ]
},
{
 "data": {"name": "ovi"},
 "layer": [
  {"mark": {"type": "line", "color": "#8a2be2", "strokeWidth": 1.8},
   "encoding": {
    "x": {"field": "v", "type": "quantitative", "scale": {"domain": [-1208, 1208], "range": [52.7, 354.7], "nice": false, "zero": false},
      "axis": {"orient": "bottom", "offset": -313, "values": [-1000, 0, 1000], "format": "d", "labelFontSize": 26, "tickSize": 5, "labelPadding": 2, "domain": false, "title": "Velocity (km s⁻¹)", "titleFontSize": 17, "titlePadding": 10}},
    "y": {"field": "f", "type": "quantitative", "scale": {"domain": [0, 1.248], "range": [196, 43.3], "nice": false, "zero": false},
      "axis": {"orient": "left", "offset": -52.7, "values": [0, 1], "labels": false, "tickSize": 5, "domain": false, "title": null}}
   }},
  {"data": {"values": [{}]}, "mark": {"type": "rect", "fill": "white", "fillOpacity": 0, "stroke": "#1a1a1a", "strokeWidth": 1},
   "encoding": {"x": {"datum": -1208, "type": "quantitative"}, "x2": {"datum": 1208}, "y": {"datum": 0, "type": "quantitative"}, "y2": {"datum": 1.248}}},
  {"data": {"values": [{}]}, "mark": {"type": "text", "text": "O VI λ1031", "align": "left", "baseline": "middle", "fontSize": 19, "color": "black"},
   "encoding": {"x": {"datum": -1000, "type": "quantitative"}, "y": {"datum": 0.908, "type": "quantitative"}}},
  {"data": {"values": [{}]}, "mark": {"type": "text", "text": "Stellar Wind", "align": "center", "baseline": "alphabetic", "fontSize": 21, "dy": -7, "color": "#008000"},
   "encoding": {"x": {"datum": 0, "type": "quantitative"}, "y": {"datum": 1.248, "type": "quantitative"}}}
 ]
},
{
 "data": {"name": "s2"},
 "layer": [
  {"mark": {"type": "area", "opacity": 1},
   "encoding": {
     "x": {"field": "v", "type": "quantitative", "scale": {"domain": [-100, 400], "range": [393.7, 696], "nice": false, "zero": false},
       "axis": {"orient": "bottom", "offset": -355.3, "values": [0, 200, 400], "labels": false, "tickSize": 5, "domain": false, "title": null}},
     "y": {"field": "f", "type": "quantitative", "stack": null, "scale": {"domain": [0, 1.476], "range": [153.7, 32.7], "nice": false, "zero": false},
       "axis": {"orient": "left", "offset": -393.7, "values": [0, 1], "labels": false, "tickSize": 5, "domain": false, "title": null}},
     "color": {"field": "region", "type": "nominal", "scale": {"domain": ["MW", "CGM", "LMC"], "range": ["#c3d3f5", "#ffdcb0", "#ffb3ff"]}, "legend": null}}},
  {"data": {"name": "edges"}, "mark": {"type": "rule", "color": "white", "strokeWidth": 2.5},
   "encoding": {"x": {"field": "edge", "type": "quantitative"}, "y": {"datum": 0, "type": "quantitative"}, "y2": {"datum": 1.0}}},
  {"mark": {"type": "line", "color": "black", "strokeWidth": 1.8},
   "encoding": {"x": {"field": "v", "type": "quantitative"}, "y": {"field": "f", "type": "quantitative"}}},
  {"data": {"values": [{}]}, "mark": {"type": "rect", "fill": "white", "fillOpacity": 0, "stroke": "#1a1a1a", "strokeWidth": 1},
   "encoding": {"x": {"datum": -100, "type": "quantitative"}, "x2": {"datum": 400}, "y": {"datum": 0, "type": "quantitative"}, "y2": {"datum": 1.476}}},
  {"data": {"values": [{}]}, "mark": {"type": "text", "text": "S II λ1253", "align": "left", "baseline": "middle", "fontSize": 19, "color": "black"},
   "encoding": {"x": {"datum": -77, "type": "quantitative"}, "y": {"datum": 1.338, "type": "quantitative"}}},
  {"data": {"values": [{}]}, "mark": {"type": "text", "text": "MW ISM", "align": "left", "baseline": "middle", "fontSize": 14, "color": "#4169e1"},
   "encoding": {"x": {"datum": -92, "type": "quantitative"}, "y": {"datum": 0.167, "type": "quantitative"}}},
  {"data": {"values": [{}]}, "mark": {"type": "text", "text": "CGM", "align": "left", "baseline": "middle", "fontSize": 14, "color": "#ff8c00"},
   "encoding": {"x": {"datum": 111, "type": "quantitative"}, "y": {"datum": 0.167, "type": "quantitative"}}},
  {"data": {"values": [{}]}, "mark": {"type": "text", "text": "LMC ISM", "align": "left", "baseline": "middle", "fontSize": 14, "color": "#ff00ff"},
   "encoding": {"x": {"datum": 200, "type": "quantitative"}, "y": {"datum": 0.167, "type": "quantitative"}}},
  {"data": {"values": [{}]}, "mark": {"type": "text", "text": "ISM + CGM", "align": "center", "baseline": "alphabetic", "fontSize": 21, "dy": -9, "color": "#008000"},
   "encoding": {"x": {"datum": 150, "type": "quantitative"}, "y": {"datum": 1.476, "type": "quantitative"}}}
 ]
},
{
 "data": {"name": "fe2"},
 "layer": [
  {"mark": {"type": "area", "opacity": 1},
   "encoding": {
     "x": {"field": "v", "type": "quantitative", "scale": {"domain": [-100, 400], "range": [393.7, 696], "nice": false, "zero": false},
       "axis": {"orient": "bottom", "offset": -233, "values": [0, 200, 400], "format": "d", "labelFontSize": 26, "tickSize": 5, "labelPadding": 2, "domain": false, "title": "Velocity (km s⁻¹)", "titleFontSize": 17, "titlePadding": 10}},
     "y": {"field": "f", "type": "quantitative", "stack": null, "scale": {"domain": [0, 2.005], "range": [276, 153.7], "nice": false, "zero": false},
       "axis": {"orient": "left", "offset": -393.7, "values": [0, 1], "labels": false, "tickSize": 5, "domain": false, "title": null}},
     "color": {"field": "region", "type": "nominal", "scale": {"domain": ["MW", "CGM", "LMC"], "range": ["#c3d3f5", "#ffdcb0", "#ffb3ff"]}, "legend": null}}},
  {"data": {"name": "edges"}, "mark": {"type": "rule", "color": "white", "strokeWidth": 2.5},
   "encoding": {"x": {"field": "edge", "type": "quantitative"}, "y": {"datum": 0, "type": "quantitative"}, "y2": {"datum": 1.2}}},
  {"mark": {"type": "line", "color": "black", "strokeWidth": 1.8},
   "encoding": {"x": {"field": "v", "type": "quantitative"}, "y": {"field": "f", "type": "quantitative"}}},
  {"data": {"values": [{}]}, "mark": {"type": "rect", "fill": "white", "fillOpacity": 0, "stroke": "#1a1a1a", "strokeWidth": 1},
   "encoding": {"x": {"datum": -100, "type": "quantitative"}, "x2": {"datum": 400}, "y": {"datum": 0, "type": "quantitative"}, "y2": {"datum": 2.005}}},
  {"data": {"values": [{}]}, "mark": {"type": "text", "text": "Fe II λ1608", "align": "left", "baseline": "middle", "fontSize": 19, "color": "black"},
   "encoding": {"x": {"datum": -77, "type": "quantitative"}, "y": {"datum": 1.607, "type": "quantitative"}}},
  {"data": {"values": [{}]}, "mark": {"type": "text", "text": "MW ISM", "align": "left", "baseline": "middle", "fontSize": 14, "color": "#4169e1"},
   "encoding": {"x": {"datum": -92, "type": "quantitative"}, "y": {"datum": 0.18, "type": "quantitative"}}},
  {"data": {"values": [{}]}, "mark": {"type": "text", "text": "CGM", "align": "left", "baseline": "middle", "fontSize": 14, "color": "#ff8c00"},
   "encoding": {"x": {"datum": 111, "type": "quantitative"}, "y": {"datum": 0.18, "type": "quantitative"}}},
  {"data": {"values": [{}]}, "mark": {"type": "text", "text": "LMC ISM", "align": "left", "baseline": "middle", "fontSize": 14, "color": "#ff00ff"},
   "encoding": {"x": {"datum": 200, "type": "quantitative"}, "y": {"datum": 0.18, "type": "quantitative"}}}
 ]
},
{
 "data": {"name": "wind"},
 "layer": [
  {"mark": {"type": "line", "strokeWidth": 1.8},
   "encoding": {
    "x": {"field": "v", "type": "quantitative", "scale": {"domain": [-4, 5.085], "range": [762, 1102.7], "nice": false, "zero": false},
      "axis": {"orient": "bottom", "offset": -264, "values": [-4, -2, 0, 2, 4], "format": "d", "labelFontSize": 26, "tickSize": 5, "labelPadding": 3, "domain": false, "title": "Velocity/1000 (km s⁻¹)", "titleFontSize": 17, "titlePadding": 10}},
    "y": {"field": "f", "type": "quantitative", "scale": {"domain": [0, 3.0], "range": [245, 62], "nice": false, "zero": false},
      "axis": {"orient": "left", "offset": -762, "values": [0, 1, 2, 3], "labels": false, "tickSize": 5, "domain": false, "title": null}},
    "color": {"field": "part", "type": "nominal", "scale": {"domain": ["c1", "abs", "emis", "c2"], "range": ["black", "blue", "red", "black"]}, "legend": null}
   }},
  {"data": {"values": [{}]}, "mark": {"type": "rect", "fill": "white", "fillOpacity": 0, "stroke": "#1a1a1a", "strokeWidth": 1},
   "encoding": {"x": {"datum": -4, "type": "quantitative"}, "x2": {"datum": 5.085}, "y": {"datum": 0, "type": "quantitative"}, "y2": {"datum": 3.0}}},
  {"data": {"values": [{}]}, "mark": {"type": "text", "text": "Absorption", "align": "left", "baseline": "middle", "fontSize": 17, "color": "blue"},
   "encoding": {"x": {"datum": -2.213, "type": "quantitative"}, "y": {"datum": 2.08, "type": "quantitative"}}},
  {"data": {"values": [{}]}, "mark": {"type": "text", "text": "Trough", "align": "left", "baseline": "middle", "fontSize": 17, "color": "blue"},
   "encoding": {"x": {"datum": -2.213, "type": "quantitative"}, "y": {"datum": 1.595, "type": "quantitative"}}},
  {"data": {"values": [{}]}, "mark": {"type": "text", "text": "Emission", "align": "left", "baseline": "middle", "fontSize": 17, "color": "red"},
   "encoding": {"x": {"datum": 2.507, "type": "quantitative"}, "y": {"datum": 2.59, "type": "quantitative"}}},
  {"data": {"values": [{}]}, "mark": {"type": "text", "text": "Lobe", "align": "left", "baseline": "middle", "fontSize": 17, "color": "red"},
   "encoding": {"x": {"datum": 2.507, "type": "quantitative"}, "y": {"datum": 2.087, "type": "quantitative"}}},
  {"data": {"values": [{}]}, "mark": {"type": "text", "text": "Stellar Wind", "align": "center", "baseline": "alphabetic", "fontSize": 21, "dy": -8, "color": "#008000"},
   "encoding": {"x": {"datum": 0.54, "type": "quantitative"}, "y": {"datum": 3.0, "type": "quantitative"}}}
 ]
},
{
 "data": {"values": [{}]},
 "encoding": {
   "x": {"datum": 0, "type": "quantitative", "scale": {"domain": [0, 1], "range": [-138, 1115], "nice": false, "zero": false}, "axis": null},
   "y": {"datum": 0, "type": "quantitative", "scale": {"domain": [0, 1], "range": [581, -35], "nice": false, "zero": false}, "axis": null}
 },
 "layer": [
  {"mark": {"type": "rule", "color": "black", "strokeWidth": 20}, "encoding": {"y2": {"datum": 1}}},
  {"mark": {"type": "rule", "color": "black", "strokeWidth": 8}, "encoding": {"x2": {"datum": 1}, "y": {"datum": 1, "type": "quantitative"}}}
 ]
}
]
}
